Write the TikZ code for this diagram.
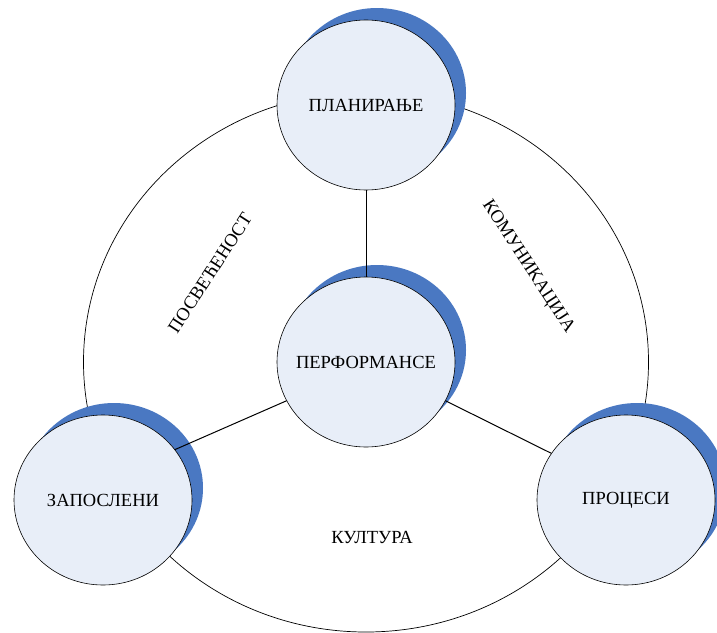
\documentclass[tikz,border=0pt]{standalone}
\usepackage{fontspec}
\setmainfont{Liberation Serif}
\usepackage{xcolor}
\usetikzlibrary{shapes.geometric,shadows}
\definecolor{discfill}{HTML}{E8EEF8}
\definecolor{discblue}{HTML}{4A78C2}
\tikzset{lbl/.style={font=\fontsize{18.5}{21}\selectfont,inner sep=1pt},
  disc/.style={ellipse,draw,line width=0.6pt,fill=discfill,minimum width=178pt,minimum height=170pt,inner sep=0pt,general shadow={fill=discblue,shadow xshift=11pt,shadow yshift=12pt},label={[lbl]center:#1}}}

\begin{document}
\begin{tikzpicture}[x=1pt,y=-1pt]
\useasboundingbox (0,0) rectangle (717,632);
% cycle
\draw[line width=0.7pt] (366,362) ellipse [x radius=282.5, y radius=270];
% discs
\node[disc=ПЛАНИРАЊЕ] (plan) at (366,105) {};
\node[disc=ПЕРФОРМАНСЕ] (perf) at (366,362) {};
\node[disc=ЗАПОСЛЕНИ] (zap) at (103,500) {};
\node[disc=ПРОЦЕСИ] (proc) at (626,500) {};
\draw[line width=1pt] (perf.north)--(plan.south);
\draw[line width=1pt] (perf.206)--(zap.35);
\draw[line width=1pt] (perf.-26)--(proc.148);
% labels
\node[lbl,rotate=57] (posv) at (210,273) {ПОСВЕЋЕНОСТ};
\node[lbl,rotate=-57] (komu) at (528,267) {КОМУНИКАЦИЈА};
\node[lbl] (kult) at (372,537) {КУЛТУРА};
\end{tikzpicture}
\end{document}
